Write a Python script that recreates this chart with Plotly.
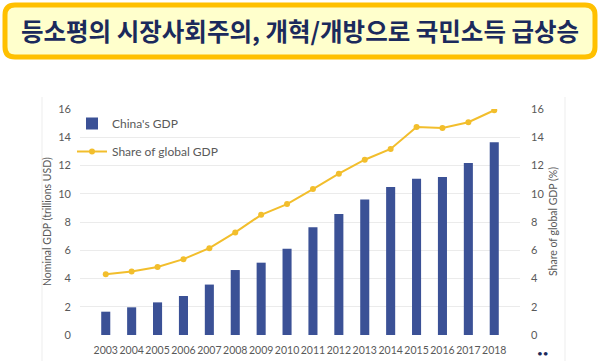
import plotly.graph_objects as go

years = [str(y) for y in range(2003, 2019)]
gdp_trillions = [1.65, 1.96, 2.31, 2.76, 3.57, 4.60, 5.12, 6.10, 7.62, 8.57,
                 9.60, 10.47, 11.07, 11.18, 12.18, 13.64]
share_global = [4.30, 4.49, 4.82, 5.37, 6.15, 7.26, 8.51, 9.27, 10.33, 11.42,
                12.41, 13.17, 14.73, 14.66, 15.06, 15.91]
y_ticks = [0, 2, 4, 6, 8, 10, 12, 14, 16]

title_text = "등소평의 시장사회주의, 개혁/개방으로 국민소득 급상승"

W, H = 600, 361
ML, MR, MT, MB = 80, 80, 109, 26
PW, PH = W - ML - MR, H - MT - MB


def px2x(px):
    return (px - ML) / PW


def px2y(py):
    return (H - MB - py) / PH


bar_color = "#3B5196"
line_color = "#F2BE2C"
tick_color = "#595959"
font_fam = "Lato, 'Open Sans', sans-serif"

fig = go.Figure()
fig.add_trace(go.Bar(
    x=years, y=gdp_trillions, name="China's GDP",
    marker=dict(color=bar_color, line=dict(width=0)),
    legendgroup="a", yaxis="y",
))
fig.add_trace(go.Scatter(
    x=years, y=share_global, name="Share of global GDP",
    mode="lines+markers",
    line=dict(color=line_color, width=2),
    marker=dict(color=line_color, size=6),
    legendgroup="b", yaxis="y2",
))

# rounded title box path
x0, x1, y0, y1, r = 5, 595, 5, 57, 10
def P(px, py):
    return f"{px2x(px):.5f},{px2y(py):.5f}"
path = (f"M {P(x0 + r, y0)} L {P(x1 - r, y0)} Q {P(x1, y0)} {P(x1, y0 + r)} "
        f"L {P(x1, y1 - r)} Q {P(x1, y1)} {P(x1 - r, y1)} "
        f"L {P(x0 + r, y1)} Q {P(x0, y1)} {P(x0, y1 - r)} "
        f"L {P(x0, y0 + r)} Q {P(x0, y0)} {P(x0 + r, y0)} Z")

shapes = [
    dict(type="path", xref="paper", yref="paper", path=path,
         line=dict(color="#FFC000", width=5), fillcolor="#FFFFCC", layer="below"),
    dict(type="line", xref="paper", yref="paper",
         x0=px2x(42), x1=px2x(42), y0=px2y(97), y1=px2y(361),
         line=dict(color="#EDEDED", width=1)),
    dict(type="line", xref="paper", yref="paper",
         x0=px2x(565), x1=px2x(565), y0=px2y(97), y1=px2y(361),
         line=dict(color="#EDEDED", width=1)),
]

annotations = [
    dict(text=f"<b>{title_text}</b>", xref="paper", yref="paper",
         x=px2x(300), y=px2y(31), showarrow=False,
         font=dict(family="'Noto Sans CJK KR', sans-serif", size=24.5, color="#1B2A5C"),
         xanchor="center", yanchor="middle"),
    dict(text="Nominal GDP (trillions USD)", xref="paper", yref="paper",
         x=px2x(47), y=0.5, textangle=-90, showarrow=False,
         font=dict(family=font_fam, size=10.5, color=tick_color),
         xanchor="center", yanchor="middle"),
    dict(text="Share of global GDP (%)", xref="paper", yref="paper",
         x=px2x(553), y=0.5, textangle=-90, showarrow=False,
         font=dict(family=font_fam, size=10.5, color=tick_color),
         xanchor="center", yanchor="middle"),
    dict(text="••", xref="paper", yref="paper",
         x=px2x(543), y=px2y(353), showarrow=False,
         font=dict(family=font_fam, size=10, color="#1B2A5C"),
         xanchor="center", yanchor="middle"),
]

fig.update_layout(
    width=W, height=H,
    margin=dict(l=ML, r=MR, t=MT, b=MB, pad=0, autoexpand=False),
    paper_bgcolor="white", plot_bgcolor="white",
    bargap=0.65,
    showlegend=True,
    legend=dict(x=px2x(72), y=px2y(109), xanchor="left", yanchor="top",
                bgcolor="rgba(0,0,0,0)", tracegroupgap=9,
                font=dict(family=font_fam, size=12, color=tick_color)),
    xaxis=dict(type="category", showgrid=False, zeroline=False, showline=False,
               ticks="", tickangle=0, automargin=False, ticklabelstandoff=7,
               tickfont=dict(family=font_fam, size=10.5, color=tick_color)),
    yaxis=dict(range=[0, 16], tickvals=y_ticks, showgrid=True, gridcolor="#EBEBEB",
               gridwidth=1, zeroline=False, showline=False, ticks="",
               ticklabelstandoff=8, automargin=False,
               tickfont=dict(family=font_fam, size=11, color=tick_color)),
    yaxis2=dict(range=[0, 16], tickvals=y_ticks, overlaying="y", side="right",
                showgrid=False, zeroline=False, showline=False, ticks="",
                ticklabelstandoff=10, automargin=False,
                tickfont=dict(family=font_fam, size=11, color=tick_color)),
    shapes=shapes,
    annotations=annotations,
)

fig.write_html("out.html", config={"displayModeBar": False})

# remove default page margin so the figure sits at the window's top-left
with open("out.html", "r", encoding="utf-8") as f:
    html = f.read()
html = html.replace("<body>", '<body style="margin:0;padding:0;">', 1)
html = html.replace("<head>", '<head><style>html,body{margin:0;padding:0;}</style>', 1)
with open("out.html", "w", encoding="utf-8") as f:
    f.write(html)
